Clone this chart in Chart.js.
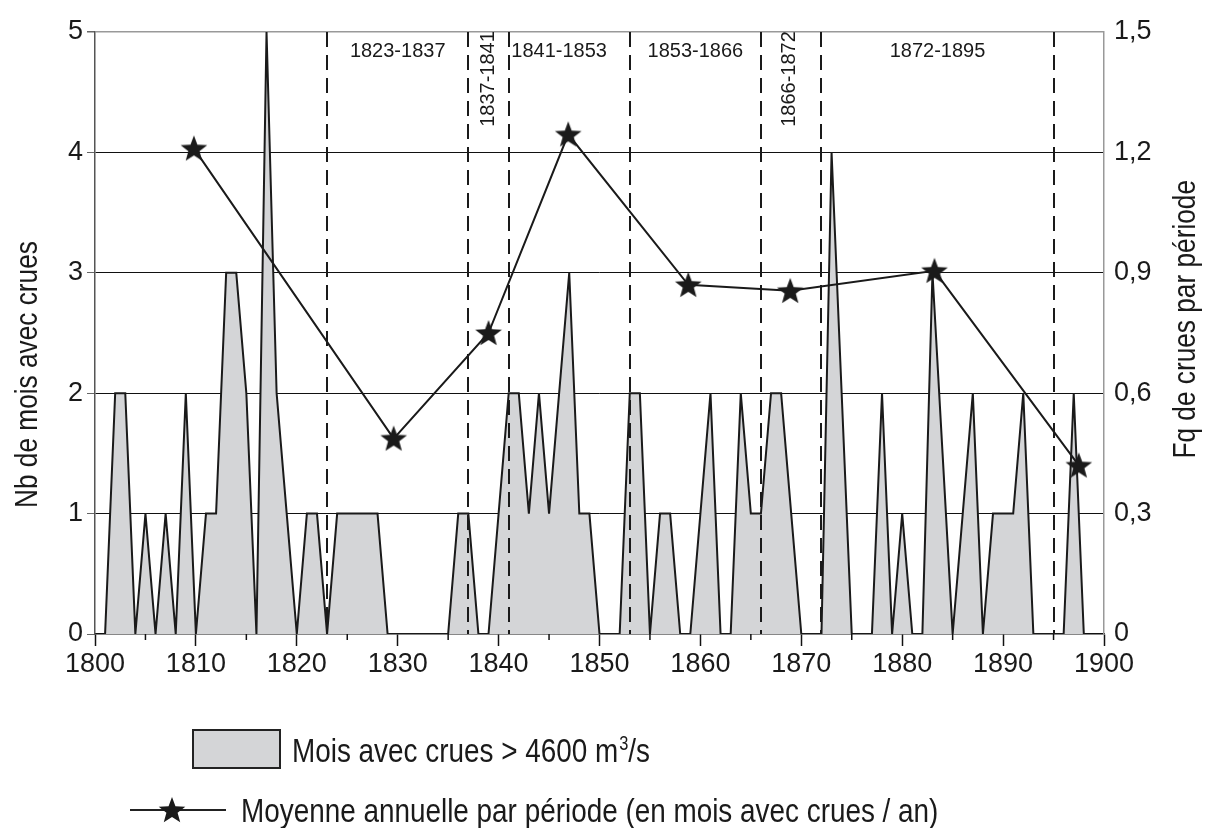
<!DOCTYPE html>
<html>
<head>
<meta charset="utf-8">
<script src="https://cdn.jsdelivr.net/npm/chart.js@4.4.0/dist/chart.umd.min.js"></script>
<style>
  html, body { margin: 0; padding: 0; background: #fff; }
</style>
</head>
<body>
<canvas id="chart" width="1212" height="828"></canvas>
<script>
// monthly flood counts, year by year (vertices)
const floodYears = [1801, 1802, 1803, 1804, 1805, 1806, 1807, 1808, 1809, 1810,
  1811, 1812, 1813, 1814, 1815, 1816, 1817, 1818, 1819, 1820,
  1821, 1822, 1823, 1824, 1825, 1826, 1827, 1828, 1829, 1830,
  1831, 1832, 1833, 1834, 1835, 1836, 1837, 1838, 1839, 1840,
  1841, 1842, 1843, 1844, 1845, 1846, 1847, 1848, 1849, 1850,
  1851, 1852, 1853, 1854, 1855, 1856, 1857, 1858, 1859, 1860,
  1861, 1862, 1863, 1864, 1865, 1866, 1867, 1868, 1869, 1870,
  1871, 1872, 1873, 1874, 1875, 1876, 1877, 1878, 1879, 1880,
  1881, 1882, 1883, 1884, 1885, 1886, 1887, 1888, 1889, 1890,
  1891, 1892, 1893, 1894, 1895, 1896, 1897, 1898];
const floodMonths = [0, 2, 2, 0, 1, 0, 1, 0, 2, 0,
  1, 1, 3, 3, 2, 0, 5, 2, 1, 0,
  1, 1, 0, 1, 1, 1, 1, 1, 0, 0,
  0, 0, 0, 0, 0, 1, 1, 0, 0, 1,
  2, 2, 1, 2, 1, 2, 3, 1, 1, 0,
  0, 0, 2, 2, 0, 1, 1, 0, 0, 1,
  2, 0, 0, 2, 1, 1, 2, 2, 1, 0,
  0, 0, 4, 2, 0, 0, 0, 2, 0, 1,
  0, 0, 3, 1.5, 0, 1, 2, 0, 1, 1,
  1, 2, 0, 0, 0, 0, 2, 0];

// mean per period (right axis)
const periodYears = [1809.8, 1829.6, 1839, 1846.9, 1858.8, 1868.9, 1883.2, 1897.5];
const periodMeans = [1.21, 0.487, 0.75, 1.245, 0.87, 0.855, 0.905, 0.42];

const periodBounds = [1823, 1837, 1841, 1853, 1866, 1872, 1895];
const periodNames = ['1823-1837', '1837-1841', '1841-1853', '1853-1866', '1866-1872', '1872-1895'];
const periodNameYears = [1830, 1839, 1846, 1859.5, 1868.8, 1883.5];
const periodNameVertical = [false, true, false, false, true, false];

const leftTitle = 'Nb de mois avec crues';
const rightTitle = 'Fq de crues par période';
const legendAreaText = 'Mois avec crues > 4600 m';
const legendLineText = 'Moyenne annuelle par période (en mois avec crues / an)';

const FONT = "'Liberation Sans', Arial, sans-serif";
const NARROW_X = 0.82; // Arial Narrow look: Liberation Sans squeezed

function makeStar(size) {
  const c = document.createElement('canvas');
  c.width = size; c.height = size;
  const g = c.getContext('2d');
  const cx = size / 2, cy = size / 2 + 1, R = size / 2 - 1, r = R * 0.42;
  g.beginPath();
  for (let i = 0; i < 10; i++) {
    const a = -Math.PI / 2 + i * Math.PI / 5;
    const rad = i % 2 === 0 ? R : r;
    g.lineTo(cx + rad * Math.cos(a), cy + rad * Math.sin(a));
  }
  g.closePath();
  g.fillStyle = '#1a1a1a';
  g.fill();
  return c;
}
const star = makeStar(30);

// narrow text, returns advance width
function narrowText(ctx, text, x, y, size, rot) {
  ctx.save();
  ctx.translate(x, y);
  if (rot) ctx.rotate(rot);
  ctx.scale(NARROW_X, 1);
  ctx.font = size + 'px ' + FONT;
  ctx.fillText(text, 0, 0);
  const w = ctx.measureText(text).width * NARROW_X;
  ctx.restore();
  return w;
}

const extras = {
  id: 'extras',
  afterDatasetDraw(chart, args) {
    if (args.index !== 1) return;
    const ctx = chart.ctx, x = chart.scales.x, a = chart.chartArea;
    ctx.save();
    ctx.strokeStyle = '#1a1a1a';
    ctx.lineWidth = 2;
    ctx.setLineDash([15, 8]);
    periodBounds.forEach(yr => {
      const px = Math.round(x.getPixelForValue(yr));
      ctx.beginPath();
      ctx.moveTo(px, a.top);
      ctx.lineTo(px, a.bottom);
      ctx.stroke();
    });
    ctx.setLineDash([]);
    ctx.fillStyle = '#1a1a1a';
    ctx.font = '20px ' + FONT;
    ctx.textBaseline = 'middle';
    periodNames.forEach((name, i) => {
      const px = x.getPixelForValue(periodNameYears[i]);
      if (periodNameVertical[i]) {
        ctx.save();
        ctx.translate(px, a.top + 47);
        ctx.rotate(-Math.PI / 2);
        ctx.textAlign = 'center';
        ctx.fillText(name, 0, 0);
        ctx.restore();
      } else {
        ctx.textAlign = 'center';
        ctx.fillText(name, px, a.top + 19);
      }
    });
    ctx.restore();
  },
  afterDraw(chart) {
    const ctx = chart.ctx, x = chart.scales.x, a = chart.chartArea;
    ctx.save();
    // minor ticks every 5 years
    ctx.strokeStyle = '#111';
    ctx.lineWidth = 1.5;
    for (let yr = 1805; yr < 1900; yr += 10) {
      const px = x.getPixelForValue(yr);
      ctx.beginPath();
      ctx.moveTo(px, a.bottom);
      ctx.lineTo(px, a.bottom + 6);
      ctx.stroke();
    }
    ctx.fillStyle = '#1a1a1a';
    ctx.textBaseline = 'alphabetic';
    ctx.textAlign = 'left';
    // axis titles, both read bottom to top
    narrowText(ctx, leftTitle, 37, 508, 32, -Math.PI / 2);
    ctx.save();
    ctx.font = '32px ' + FONT;
    const rw = ctx.measureText(rightTitle).width * NARROW_X;
    ctx.restore();
    narrowText(ctx, rightTitle, 1195, 180 + rw, 32, -Math.PI / 2);

    // legend
    ctx.fillStyle = '#d4d5d7';
    ctx.fillRect(193, 730, 87, 38);
    ctx.strokeStyle = '#222';
    ctx.lineWidth = 2;
    ctx.strokeRect(193, 730, 87, 38);
    ctx.fillStyle = '#1a1a1a';
    let tx = 292;
    tx += narrowText(ctx, legendAreaText, tx, 762, 34);
    tx += narrowText(ctx, '3', tx + 1, 750, 20) + 1;
    narrowText(ctx, '/s', tx, 762, 34);

    ctx.lineWidth = 2;
    ctx.beginPath();
    ctx.moveTo(130, 810);
    ctx.lineTo(226, 810);
    ctx.stroke();
    ctx.drawImage(star, 172 - 15, 810 - 15);
    narrowText(ctx, legendLineText, 241, 822, 34);
    ctx.restore();
  }
};

new Chart(document.getElementById('chart'), {
  type: 'line',
  data: {
    datasets: [{
      label: 'Moyenne annuelle par période',
      data: periodYears.map((yr, i) => ({ x: yr, y: periodMeans[i] })),
      yAxisID: 'y1',
      borderColor: '#1a1a1a',
      borderWidth: 2,
      pointStyle: star,
      pointRadius: 14,
      tension: 0,
      fill: false,
      clip: false
    }, {
      label: 'Mois avec crues > 4600 m3/s',
      data: floodYears.map((yr, i) => ({ x: yr, y: floodMonths[i] })),
      yAxisID: 'y',
      borderColor: '#1a1a1a',
      borderWidth: 2,
      backgroundColor: '#d4d5d7',
      fill: 'origin',
      pointRadius: 0,
      tension: 0
    }]
  },
  options: {
    responsive: false,
    animation: false,
    devicePixelRatio: 1,
    layout: { padding: { top: 32, left: 0, right: 0, bottom: 0 } },
    plugins: { legend: { display: false }, tooltip: { enabled: false } },
    scales: {
      x: {
        type: 'linear',
        min: 1800,
        max: 1900,
        afterFit: s => { s.height = 194; },
        border: { color: '#111', width: 1.5 },
        grid: { drawOnChartArea: false, tickLength: 12, tickColor: '#111', tickWidth: 1.5 },
        ticks: {
          stepSize: 10,
          padding: 2,
          color: '#1a1a1a',
          font: { family: FONT, size: 27 },
          callback: v => String(v)
        }
      },
      y: {
        position: 'left',
        min: 0,
        max: 5,
        afterFit: s => { s.width = 95; },
        border: { color: '#555', width: 1.5 },
        grid: {
          color: c => c.tick.value === 5 ? '#999' : (c.tick.value === 0 ? 'rgba(0,0,0,0)' : '#111'),
          lineWidth: c => c.tick.value === 5 ? 1.5 : 1,
          tickLength: 8,
          tickColor: '#666'
        },
        ticks: {
          stepSize: 1,
          padding: 4,
          color: '#1a1a1a',
          font: { family: FONT, size: 27 }
        }
      },
      y1: {
        position: 'right',
        min: 0,
        max: 1.5,
        afterFit: s => { s.width = 108; },
        border: { color: '#999', width: 1.5 },
        grid: { drawOnChartArea: false, drawTicks: false },
        ticks: {
          stepSize: 0.3,
          padding: 10,
          color: '#1a1a1a',
          font: { family: FONT, size: 27 },
          callback: v => (Math.abs(v) < 1e-9 ? '0' : v.toFixed(1).replace('.', ','))
        }
      }
    }
  },
  plugins: [extras]
});
</script>
</body>
</html>
